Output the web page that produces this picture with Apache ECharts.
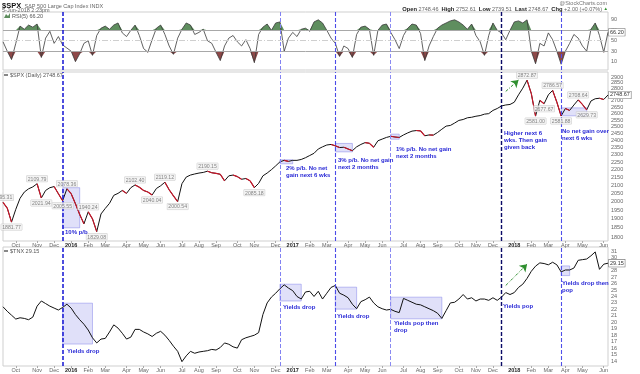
<!DOCTYPE html>
<html><head><meta charset="utf-8">
<script src="https://cdn.jsdelivr.net/npm/echarts@6/dist/echarts.min.js"></script>
<style>html,body{margin:0;padding:0;background:#fff}#c{width:640px;height:374px}</style>
</head><body><div id="c"></div>
<script>
// ---------- data ----------
const dates = ['2015-09-18','2015-09-25','2015-10-02','2015-10-09','2015-10-16','2015-10-23','2015-10-30','2015-11-06','2015-11-13','2015-11-20',
'2015-11-27','2015-12-04','2015-12-11','2015-12-18','2015-12-25','2016-01-01','2016-01-08','2016-01-15','2016-01-22','2016-01-29',
'2016-02-05','2016-02-12','2016-02-19','2016-02-26','2016-03-04','2016-03-11','2016-03-18','2016-03-25','2016-04-01','2016-04-08',
'2016-04-15','2016-04-22','2016-04-29','2016-05-06','2016-05-13','2016-05-20','2016-05-27','2016-06-03','2016-06-10','2016-06-17',
'2016-06-24','2016-07-01','2016-07-08','2016-07-15','2016-07-22','2016-07-29','2016-08-05','2016-08-12','2016-08-19','2016-08-26',
'2016-09-02','2016-09-09','2016-09-16','2016-09-23','2016-09-30','2016-10-07','2016-10-14','2016-10-21','2016-10-28','2016-11-04',
'2016-11-11','2016-11-18','2016-11-25','2016-12-02','2016-12-09','2016-12-16','2016-12-23','2016-12-30','2017-01-06','2017-01-13',
'2017-01-20','2017-01-27','2017-02-03','2017-02-10','2017-02-17','2017-02-24','2017-03-03','2017-03-10','2017-03-17','2017-03-24',
'2017-03-31','2017-04-07','2017-04-14','2017-04-21','2017-04-28','2017-05-05','2017-05-12','2017-05-19','2017-05-26','2017-06-02',
'2017-06-09','2017-06-16','2017-06-23','2017-06-30','2017-07-07','2017-07-14','2017-07-21','2017-07-28','2017-08-04','2017-08-11',
'2017-08-18','2017-08-25','2017-09-01','2017-09-08','2017-09-15','2017-09-22','2017-09-29','2017-10-06','2017-10-13','2017-10-20',
'2017-10-27','2017-11-03','2017-11-10','2017-11-17','2017-11-24','2017-12-01','2017-12-08','2017-12-15','2017-12-22','2017-12-29',
'2018-01-05','2018-01-12','2018-01-19','2018-01-26','2018-02-02','2018-02-09','2018-02-16','2018-02-23','2018-03-02','2018-03-09',
'2018-03-16','2018-03-23','2018-03-30','2018-04-06','2018-04-13','2018-04-20','2018-04-27','2018-05-04','2018-05-11','2018-05-18',
'2018-05-25','2018-06-01','2018-06-05'];

const spx = [1995.31,1962,1881.77,1955,2020,2058,2078,2090,2109.79,2021.94,
2068,2085,2092,2048,2005.55,2078.36,2048,1988,1925,1872,
1940.24,1900,1829.08,1928,1960,1990,2038,2050,2068,2050,
2085,2102.40,2088,2068,2058,2040.04,2080,2097,2119.12,2072,
2035,2000.54,2110,2152,2165,2172,2178,2182,2190.15,2180,
2176,2170,2128,2160,2165,2155,2138,2143,2128,2085.18,
2112,2160,2178,2200,2225,2252,2262,2255,2262,2262,
2268,2280,2295,2310,2340,2355,2368,2372,2362,2350,
2352,2340,2328,2355,2372,2385,2380,2352,2398,2410,
2422,2430,2425,2422,2440,2455,2468,2472,2470,2434,
2440,2439,2458,2482,2505,2510,2528,2548,2555,2568,
2572,2580,2585,2596,2600,2625,2640,2660,2668,2672,
2690,2750,2805,2872.87,2760,2581.00,2705,2677.67,2750,2786.57,
2690,2581.88,2640,2625,2668,2708.64,2672,2629.73,2700,2718,
2722,2712,2748.67];

const rsi5 = [48,30,14,45,78,72,80,76,82,18,
55,68,45,58,42,36,30,10,25,45,
50,22,60,74,78,72,80,84,65,58,
70,80,60,35,28,52,74,80,62,40,
24,55,72,84,80,62,66,72,50,45,
28,12,40,55,60,48,40,52,35,8,
62,76,82,70,84,86,30,55,66,58,
72,74,68,86,90,84,70,55,45,20,
40,35,18,62,76,78,72,22,70,80,
82,66,52,35,60,74,82,80,64,12,
40,58,74,80,84,88,90,86,80,72,
82,60,48,22,60,84,70,65,52,70,
86,88,84,90,30,6,45,40,65,52,
30,5,30,45,62,55,40,30,72,84,
60,28,66.2];

const tnx = [22.4,21.7,21.1,20.5,20.7,20.6,20.4,20.8,22.5,23.3,
22.9,22.5,22.2,21.9,22.3,22.8,22.2,21.2,20.4,19.7,
18.8,17.6,16.8,17.4,17.5,18.5,19.6,19.1,18.3,17.4,
17.7,18.9,18.9,18.5,18.2,17.8,18.3,18.6,18.0,17.2,
16.3,15.5,13.9,14.8,15.5,15.2,15.4,15.5,15.6,15.8,
15.7,16.1,16.8,16.6,16.2,16.0,17.3,17.6,17.8,18.0,
18.4,21.2,23.0,23.9,24.5,25.2,25.8,25.3,24.9,24.0,
23.6,24.7,24.8,24.0,24.8,23.6,24.5,25.4,25.7,24.5,
24.2,23.8,22.8,22.1,23.2,23.5,23.9,23.0,22.4,22.1,
21.9,22.0,21.7,21.5,23.7,23.4,23.1,22.8,22.7,22.4,
22.1,21.8,21.4,20.6,21.8,23.0,23.1,23.6,24.3,23.6,
23.8,23.3,23.6,23.6,23.4,23.8,23.4,23.9,24.6,24.3,
24.6,25.4,25.9,26.8,27.9,28.7,29.2,29.1,28.9,29.3,
28.9,27.8,28.1,28.1,28.4,29.6,29.7,29.8,30.3,30.9,
28.2,29.0,29.15];

const spxPeakDates = ['2015-09-18','2015-11-13','2016-01-01','2016-02-05','2016-04-22','2016-06-10','2016-08-19','2018-01-26','2018-03-09','2018-04-20'];
const spxTroughDates = ['2015-10-02','2015-11-20','2015-12-25','2016-02-19','2016-05-20','2016-07-01','2016-11-04','2018-02-09','2018-02-23','2018-03-23','2018-05-04'];

const xTickDates = ['2015-10-09','2015-11-13','2015-12-11','2016-01-08','2016-02-05','2016-03-04','2016-04-08','2016-05-06','2016-06-03','2016-07-08','2016-08-05','2016-09-02','2016-10-07','2016-11-04','2016-12-09',
'2017-01-06','2017-02-03','2017-03-03','2017-04-07','2017-05-05','2017-06-02','2017-07-07','2017-08-04','2017-09-01','2017-10-06','2017-11-03','2017-12-01',
'2018-01-05','2018-02-02','2018-03-02','2018-03-30','2018-04-27','2018-06-01'];
const xTickText = ['Oct','Nov','Dec','2016','Feb','Mar','Apr','May','Jun','Jul','Aug','Sep','Oct','Nov','Dec',
'2017','Feb','Mar','Apr','May','Jun','Jul','Aug','Sep','Oct','Nov','Dec',
'2018','Feb','Mar','Apr','May','Jun'];

const rsiTicks = [10,30,50,70,90];
const spxTicks = [1800,1850,1900,1950,2000,2050,2100,2150,2200,2250,2300,2350,2400,2450,2500,2550,2600,2650,2700,2750,2800,2850,2900];
const tnxTicks = [14,15,16,17,18,19,20,21,22,23,24,25,26,27,28,29,30,31];

const eventDates = ['2015-12-25','2016-12-16','2017-03-17','2017-06-16','2017-12-15','2018-03-23'];
// [startDate, endDate, high, low]
const spxBoxes = [['2015-12-25','2016-01-22',2085,1850],['2016-12-16','2017-01-06',2266,2239],['2017-03-17','2017-04-14',2379,2320],['2017-06-16','2017-06-30',2446,2409],['2018-03-23','2018-05-04',2645,2583]];
const tnxBoxes = [['2015-12-25','2016-02-12',22.96,16.63],['2016-12-16','2017-01-20',25.9,23.3],['2017-03-17','2017-04-21',25.44,22.04],['2017-06-16','2017-09-08',23.89,20.54],['2018-03-23','2018-04-06',28.73,27.23]];
const spxArrow = [['2017-12-22',2778],['2018-01-12',2874]];
const tnxArrow = [['2017-12-22',25.7],['2018-01-26',29.0]];

// ---------- build ----------
const FONT = '"Liberation Sans", Arial, sans-serif';
const spxLn = spx.map(v => Math.log(v));
const tickSet = new Set(xTickDates.map(d => dates.indexOf(d)));
const tickLabel = {}; xTickDates.forEach((d,k)=>{ tickLabel[d] = xTickText[k]; });
const downSegs = [];
for (let i = 1; i < spx.length; i++) if (spx[i] < spx[i-1]) downSegs.push([i, spxLn[i-1], spxLn[i]]);

const eventColors = ['#1414d4','#8282f2','#4c4ce8','#8a8af2','#0a0a66','#5050ea'];
const eventWidths = [1.5,1,1.1,1,1.4,1.1];
const eventLines = eventDates.map((d,k)=>({xAxis:d, lineStyle:{color:eventColors[k], width:eventWidths[k], type:[4,2]}}));
const boxStyle = {color:'rgba(165,165,238,0.35)', borderColor:'rgba(125,125,232,0.6)', borderWidth:0.8};

function mkX(g, show){
  return {type:'category', gridIndex:g, data:dates, boundaryGap:false,
    axisLine:{show:false}, splitLine:{show:false},
    axisTick:{show:show, interval:(i)=>tickSet.has(i), length:2, lineStyle:{color:'#aaa'}},
    axisLabel:{show:show, interval:(i)=>tickSet.has(i), fontSize:5.5, color:'#666', margin:1.5, fontFamily:FONT,
      formatter:(v)=>{ const t = tickLabel[v] || ''; return /^\d{4}$/.test(t) ? '{b|'+t+'}' : t; },
      rich:{b:{fontWeight:'bold', color:'#222', fontSize:5.5, fontFamily:FONT}}}};
}
function mkY(g, min, max, ticks, fmt){
  return {type:'value', gridIndex:g, position:'right', min:min, max:max, scale:true,
    splitLine:{show:false}, axisLine:{show:false}, axisTick:{show:false},
    axisLabel:{customValues:ticks, fontSize:5.5, color:'#666', margin:3, fontFamily:FONT, formatter:fmt}};
}
const endLbl = (txt)=>({show:true, formatter:()=>txt, fontSize:5.5, color:'#333', fontFamily:FONT,
  backgroundColor:'#fff', borderColor:'#777', borderWidth:0.6, padding:[1,1,0,1], distance:1});
const ptLbl = {show:true, formatter:'{b}', fontSize:5.2, color:'#666', fontFamily:FONT, backgroundColor:'#f3f3f3',
  borderColor:'#c6c6c6', borderWidth:0.5, padding:[1,1,0,1], distance:2};
const spxLabelData = spxPeakDates.map(d=>{const i=dates.indexOf(d);return {name:spx[i].toFixed(2), value:[d, spxLn[i]], label:{position:'top'}};})
  .concat(spxTroughDates.map(d=>{const i=dates.indexOf(d);return {name:spx[i].toFixed(2), value:[d, spxLn[i]], label:{position:'bottom'}};}));

const noteStyle = {fill:'#2a2ad6', fontSize:6, fontWeight:'bold', fontFamily:FONT, lineHeight:7};
function note(t,x,y){ return {type:'text', x:x, y:y, silent:true, style:Object.assign({text:t}, noteStyle), z:20}; }

const option = {
  animation:false,
  textStyle:{fontFamily:FONT},
  grid:[
    {left:3, right:32, top:12, height:58, show:true, borderColor:'#cfcfcf', borderWidth:1},
    {left:3, right:32, top:72, height:169, show:true, borderColor:'#cfcfcf', borderWidth:1},
    {left:3, right:32, top:247, height:119, show:true, borderColor:'#cfcfcf', borderWidth:1}
  ],
  xAxis:[mkX(0,false), mkX(1,true), mkX(2,true)],
  yAxis:[
    mkY(0, -6, 105, rsiTicks),
    mkY(1, Math.log(1778.7), Math.log(2943.5), spxTicks.map(v=>Math.log(v)), (v)=>String(Math.round(Math.exp(v)))),
    mkY(2, 13.23, 31.66, tnxTicks)
  ],
  series:[
    {name:'RSI hi', type:'line', xAxisIndex:0, yAxisIndex:0, data:rsi5.map(v=>Math.max(v,70)), symbol:'none', silent:true,
      lineStyle:{width:0}, areaStyle:{origin:70, color:'#5f8e5f', opacity:1}, z:2},
    {name:'RSI lo', type:'line', xAxisIndex:0, yAxisIndex:0, data:rsi5.map(v=>Math.min(v,30)), symbol:'none', silent:true,
      lineStyle:{width:0}, areaStyle:{origin:30, color:'#8e4848', opacity:1}, z:2},
    {name:'RSI(5)', type:'line', xAxisIndex:0, yAxisIndex:0, data:rsi5, symbol:'none', z:3,
      lineStyle:{color:'#3a3a3a', width:0.8}, endLabel:endLbl(rsi5[rsi5.length-1].toFixed(2)),
      markLine:{silent:true, symbol:['none','none'], label:{show:false},
        data:[{yAxis:70, lineStyle:{color:'#a8a8a8', width:1, type:'solid'}},
              {yAxis:30, lineStyle:{color:'#a8a8a8', width:1, type:'solid'}},
              {yAxis:50, lineStyle:{color:'#cfcfcf', width:1, type:[6,2,1,2]}}].concat(eventLines)}},
    {name:'$SPX', type:'line', xAxisIndex:1, yAxisIndex:1, data:spxLn, symbol:'none', z:3,
      lineStyle:{color:'#111', width:1}, endLabel:endLbl(spx[spx.length-1].toFixed(2)),
      markArea:{silent:true, itemStyle:boxStyle, data:spxBoxes.map(b=>[{xAxis:b[0], yAxis:Math.log(b[2])},{xAxis:b[1], yAxis:Math.log(b[3])}])},
      markLine:{silent:true, symbol:['none','none'], label:{show:false},
        data:eventLines.concat([[{coord:[spxArrow[0][0], Math.log(spxArrow[0][1])], symbol:'none', lineStyle:{color:'#2f8f2f', width:1, type:[3,1.5,1,1.5]}},
                                 {coord:[spxArrow[1][0], Math.log(spxArrow[1][1])], symbol:'arrow', symbolSize:7}]])}},
    {name:'$SPX down', type:'custom', xAxisIndex:1, yAxisIndex:1, data:downSegs, silent:true, z:4,
      encode:{x:0, y:[1,2]},
      renderItem:function(params, api){
        const i = api.value(0);
        const a = api.coord([i-1, api.value(1)]);
        const b = api.coord([i, api.value(2)]);
        return {type:'line', shape:{x1:a[0], y1:a[1], x2:b[0], y2:b[1]}, style:{stroke:'#d01428', lineWidth:1.1}};
      }},
    {name:'$SPX labels', type:'scatter', xAxisIndex:1, yAxisIndex:1, data:spxLabelData, symbolSize:0, silent:true, z:6, label:ptLbl},
    {name:'$TNX', type:'line', xAxisIndex:2, yAxisIndex:2, data:tnx, symbol:'none', z:3,
      lineStyle:{color:'#111', width:1}, endLabel:endLbl(tnx[tnx.length-1].toFixed(2)),
      markArea:{silent:true, itemStyle:boxStyle, data:tnxBoxes.map(b=>[{xAxis:b[0], yAxis:b[2]},{xAxis:b[1], yAxis:b[3]}])},
      markLine:{silent:true, symbol:['none','none'], label:{show:false},
        data:eventLines.concat([[{coord:tnxArrow[0], symbol:'none', lineStyle:{color:'#2f8f2f', width:1, type:[3,1.5,1,1.5]}},
                                 {coord:tnxArrow[1], symbol:'arrow', symbolSize:7}]])}}
  ],
  graphic:[
    {type:'text', x:2, y:0, silent:true, style:{text:'{a|$SPX} {b|S&P 500 Large Cap Index INDX}', rich:{a:{fontSize:7.5, fontWeight:'bold', fill:'#111', fontFamily:FONT}, b:{fontSize:5.5, fill:'#666', fontFamily:FONT}}}},
    {type:'text', x:2, y:7, silent:true, style:{text:'5-Jun-2018 2:23pm', fontSize:5.5, fill:'#666', fontFamily:FONT}},
    {type:'text', right:33, top:0, silent:true, style:{text:'@StockCharts.com', fontSize:5.5, fill:'#777', fontFamily:FONT}},
    {type:'text', right:32, top:6, silent:true, style:{text:'{k|Open} 2748.46  {k|High} 2752.61  {k|Low} 2739.51  {k|Last} 2748.67  {k|Chg} +2.00 (+0.07%) {g|▲}',
      fontSize:5.5, fill:'#666', fontFamily:FONT, rich:{k:{fontSize:5.8, fontWeight:'bold', fill:'#222', fontFamily:FONT}, g:{fontSize:4.5, fill:'#2f8f2f'}}}},
    {type:'polygon', silent:true, shape:{points:[[4,18],[6,14],[8,16],[10,13],[10,18]]}, style:{fill:'#5f8e5f'}},
    {type:'text', x:12, y:13, silent:true, style:{text:'RSI(5) 66.20', fontSize:5.5, fill:'#555', fontFamily:FONT}},
    {type:'rect', silent:true, shape:{x:4, y:74.5, width:4, height:1}, style:{fill:'#111'}},
    {type:'text', x:10, y:72, silent:true, style:{text:'$SPX (Daily) 2748.67', fontSize:5.5, fill:'#555', fontFamily:FONT}},
    {type:'rect', silent:true, shape:{x:4, y:250.5, width:4, height:1}, style:{fill:'#111'}},
    {type:'text', x:10, y:248, silent:true, style:{text:'$TNX 29.15', fontSize:5.5, fill:'#555', fontFamily:FONT}},
    note('10% p/b', 65, 229),
    note('2% p/b. No net\ngain next 6 wks', 286, 165),
    note('3% p/b. No net gain\nnext 2 months', 338, 157),
    note('1% p/b. No net gain\nnext 2 months', 396, 146),
    note('Higher next 6\nwks. Then gain\ngiven back', 504, 130),
    note('No net gain over\nnext 6 wks', 562, 128),
    note('Yields drop', 67, 348),
    note('Yields drop', 283, 304),
    note('Yields drop', 337, 313),
    note('Yields pop then\ndrop', 394, 320),
    note('Yields pop', 503, 303),
    note('Yields drop then\npop', 562, 280)
  ]
};
const chart = echarts.init(document.getElementById('c'), null, {renderer:'canvas', devicePixelRatio:1});
chart.setOption(option);
</script>
</body></html>
